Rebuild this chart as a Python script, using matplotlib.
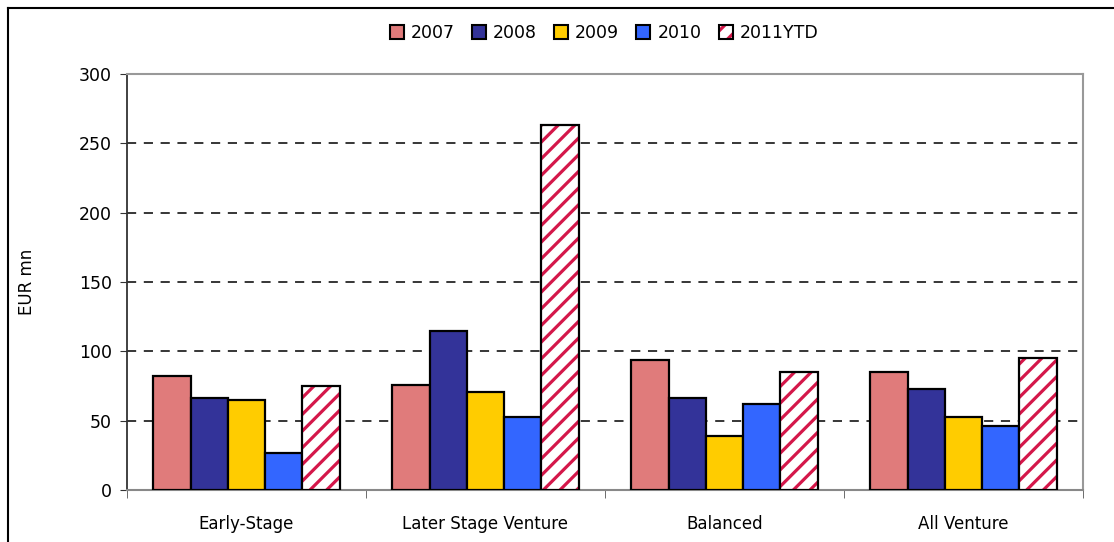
import matplotlib
matplotlib.use("Agg")
import matplotlib.pyplot as plt
import numpy as np
from matplotlib.patches import Patch
from matplotlib.lines import Line2D

categories = ["Early-Stage", "Later Stage Venture", "Balanced", "All Venture"]
series = ["2007", "2008", "2009", "2010", "2011YTD"]
v2007 = [82, 76, 94, 85]
v2008 = [66, 115, 66, 73]
v2009 = [65, 71, 39, 53]
v2010 = [27, 53, 62, 46]
v2011 = [75, 263, 85, 95]
values = [v2007, v2008, v2009, v2010, v2011]
colors = ["#E07B7B", "#333399", "#FFCC00", "#3366FF", "white"]
hatch_color = "#D4174A"

plt.rcParams['font.family'] = ['DejaVu Sans']
plt.rcParams['hatch.linewidth'] = 2.3

fig = plt.figure(figsize=(11.14, 5.42), dpi=100)
ax = fig.add_axes([127/1114, 1 - 490/542, (1083-127)/1114, (490-74)/542])

x = np.arange(len(categories))
bw = 0.156
offsets = (np.arange(5) - 2) * bw
for i, (s, vals) in enumerate(zip(series, values)):
    if s == "2011YTD":
        ax.bar(x + offsets[i], vals, bw, color="white", edgecolor=hatch_color,
               hatch="//", linewidth=0, zorder=3)
        ax.bar(x + offsets[i], vals, bw, fill=False, edgecolor="black",
               linewidth=1.6, zorder=4)
    else:
        ax.bar(x + offsets[i], vals, bw, color=colors[i], edgecolor="black",
               linewidth=1.6, zorder=3)

ax.set_xlim(-0.5, 3.5)
ax.set_ylim(0, 300)
ax.set_yticks(range(0, 301, 50))
ax.set_xticks(x)
ax.set_xticklabels(categories, fontsize=12)
ax.set_xticks(np.arange(-0.5, 4.0, 1.0), minor=True)
ax.tick_params(axis='x', which='major', length=0, pad=18)
ax.tick_params(axis='x', which='minor', length=6, color="#555555", direction='out')
ax.tick_params(axis='y', labelsize=12.5, length=5, color="#333333", pad=6)
for yv in range(50, 300, 50):
    ax.axhline(yv, color="black", linestyle=(0, (6, 5)), linewidth=1.1, zorder=1)
ax.spines['left'].set_color("#333333")
ax.spines['left'].set_linewidth(1.3)
ax.spines['bottom'].set_color("#888888")
ax.spines['bottom'].set_linewidth(1.5)
ax.spines['top'].set_color("#999999")
ax.spines['top'].set_linewidth(1.5)
ax.spines['right'].set_color("#999999")
ax.spines['right'].set_linewidth(1.5)
ax.set_ylabel("EUR mn", fontsize=12)
ax.yaxis.set_label_coords(-0.095, 0.5)

handles = []
labels = []
for i, s in enumerate(series):
    if s == "2011YTD":
        h = (Patch(facecolor="white", edgecolor=hatch_color, hatch="//", linewidth=0),
             Patch(fill=False, edgecolor="black", linewidth=1.5))
    else:
        h = Patch(facecolor=colors[i], edgecolor="black", linewidth=1.5)
    handles.append(h)
    labels.append(s)
leg = fig.legend(handles, labels, loc="center", bbox_to_anchor=(604/1114, 1 - 33/542),
                 ncol=5, frameon=False, fontsize=12.5, handlelength=0.8, handleheight=0.8,
                 handletextpad=0.4, columnspacing=1.0)

# outer chart border (top and left)
fig.add_artist(Line2D([8/1114, 8/1114], [0, 1 - 8/542], color="black", linewidth=1.5, transform=fig.transFigure))
fig.add_artist(Line2D([8/1114, 1], [1 - 8/542, 1 - 8/542], color="black", linewidth=1.5, transform=fig.transFigure))

fig.savefig("out.png", dpi=100)
